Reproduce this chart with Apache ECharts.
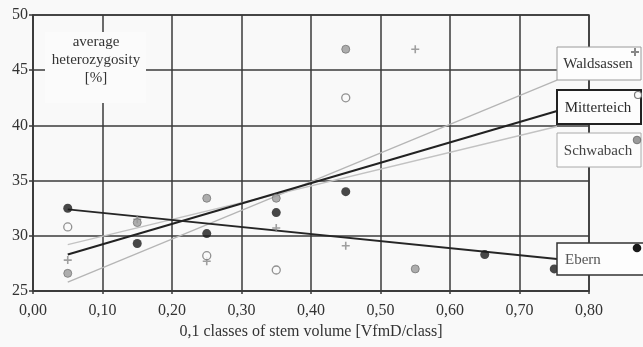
<!DOCTYPE html>
<html><head><meta charset="utf-8">
<script src="https://cdn.jsdelivr.net/npm/echarts@6/dist/echarts.min.js"></script>
<style>html,body{margin:0;padding:0;background:#f9f9f9}#c{width:643px;height:347px}</style>
</head><body><div id="c"></div>
<script>
// Data
const xTicks = [0, 0.1, 0.2, 0.3, 0.4, 0.5, 0.6, 0.7, 0.8];
const yTicks = [25, 30, 35, 40, 45, 50];
const seriesNames = ['Waldsassen', 'Mitterteich', 'Schwabach', 'Ebern'];
const ebernPts = [[0.05, 32.5], [0.15, 29.3], [0.25, 30.2], [0.35, 32.1], [0.45, 34.0], [0.65, 28.3], [0.75, 27.0]];
const mitterteichPts = [[0.05, 30.8], [0.25, 28.2], [0.35, 26.9], [0.45, 42.5]];
const schwabachPts = [[0.05, 26.6], [0.15, 31.2], [0.25, 33.4], [0.35, 33.4], [0.45, 46.9], [0.55, 27.0]];
const waldsassenPts = [[0.05, 27.8], [0.15, 31.5], [0.25, 27.7], [0.35, 30.7], [0.45, 29.1], [0.55, 46.9]];
// trend lines (start / end points)
const ebernTrend = [[0.05, 32.4], [0.754, 27.9]];
const mitterteichTrend = [[0.05, 28.3], [0.754, 41.3]];
const schwabachTrend = [[0.05, 29.2], [0.754, 39.9]];
const waldsassenTrend = [[0.05, 25.8], [0.754, 44.1]];

const FONT = '"Liberation Serif", "DejaVu Serif", serif';
const TXT = '#333';
const GRIDC = '#3a3a3a';
const plus = 'path://M4,0H6V4H10V6H6V10H4V6H0V4H4Z';

const chart = echarts.init(document.getElementById('c'), null, {renderer: 'canvas'});

function trend(name, data, color, width) {
  return {name: name + ' trend', type: 'line', data: data, showSymbol: false, symbol: 'none',
    lineStyle: {color: color, width: width}, z: 2, silent: true, animation: false};
}
function legendBox(y, h, label, stroke, lw, textColor) {
  return [
    {type: 'rect', shape: {x: 557, y: y, width: 84, height: h},
     style: {fill: '#fdfdfd', stroke: stroke, lineWidth: lw}, z: 100},
    {type: 'text', x: 598, y: y + h / 2 + 1, z: 101,
     style: {text: label, font: '15px ' + FONT, fill: textColor, textAlign: 'center', textVerticalAlign: 'middle'}}
  ];
}

const option = {
  backgroundColor: '#f9f9f9',
  animation: false,
  grid: {left: 33, right: 54, top: 15, bottom: 56, show: true, borderColor: GRIDC, borderWidth: 1.5, backgroundColor: 'transparent'},
  xAxis: {
    type: 'value', min: 0, max: 0.8, interval: 0.1,
    axisLine: {show: true, lineStyle: {color: GRIDC, width: 1.5}},
    axisTick: {show: true, length: 3, lineStyle: {color: GRIDC, width: 1.5}},
    splitLine: {show: true, lineStyle: {color: GRIDC, width: 1.5}},
    axisLabel: {color: TXT, fontFamily: FONT, fontSize: 16, margin: 12,
      formatter: v => { const t = xTicks.find(k => Math.abs(k - v) < 1e-6); return (t === undefined ? v : t).toFixed(2).replace('.', ','); }},
    name: '0,1 classes of stem volume [VfmD/class]', nameLocation: 'middle', nameGap: 33,
    nameTextStyle: {color: TXT, fontFamily: FONT, fontSize: 16}
  },
  yAxis: {
    type: 'value', min: 25, max: 50, interval: 5,
    axisLine: {show: true, lineStyle: {color: GRIDC, width: 1.5}},
    axisTick: {show: true, length: 4, lineStyle: {color: GRIDC, width: 1.5}},
    splitLine: {show: true, lineStyle: {color: GRIDC, width: 1.5}},
    axisLabel: {color: TXT, fontFamily: FONT, fontSize: 16, margin: 5,
      formatter: v => { const t = yTicks.find(k => Math.abs(k - v) < 1e-6); return String(t === undefined ? v : t); }}
  },
  series: [
    trend('Waldsassen', waldsassenTrend, '#b5b5b5', 1.3),
    trend('Schwabach', schwabachTrend, '#c2c2c2', 1.3),
    trend('Mitterteich', mitterteichTrend, '#222', 2),
    trend('Ebern', ebernTrend, '#262626', 1.8),
    {name: 'Waldsassen', type: 'scatter', data: waldsassenPts, symbol: plus, symbolSize: 8,
      itemStyle: {color: '#888'}, z: 5},
    {name: 'Schwabach', type: 'scatter', data: schwabachPts, symbol: 'circle', symbolSize: 8,
      itemStyle: {color: '#9a9a9a', borderColor: '#777', borderWidth: 1}, z: 5},
    {name: 'Mitterteich', type: 'scatter', data: mitterteichPts, symbol: 'circle', symbolSize: 8,
      itemStyle: {color: '#fafafa', borderColor: '#777', borderWidth: 1.3}, z: 5},
    {name: 'Ebern', type: 'scatter', data: ebernPts, symbol: 'circle', symbolSize: 9,
      itemStyle: {color: '#1a1a1a'}, z: 6}
  ],
  graphic: [
    {type: 'rect', shape: {x: 45, y: 32, width: 101, height: 71}, style: {fill: '#fbfbfb'}, z: 50},
    {type: 'text', x: 96, y: 42, z: 51, style: {text: 'average', font: '15px ' + FONT, fill: TXT, textAlign: 'center', textVerticalAlign: 'middle'}},
    {type: 'text', x: 96, y: 60, z: 51, style: {text: 'heterozygosity', font: '15px ' + FONT, fill: TXT, textAlign: 'center', textVerticalAlign: 'middle'}},
    {type: 'text', x: 96, y: 78, z: 51, style: {text: '[%]', font: '15px ' + FONT, fill: TXT, textAlign: 'center', textVerticalAlign: 'middle'}},
    ...legendBox(47, 33, seriesNames[0], '#9a9a9a', 1, '#333'),
    ...legendBox(90, 34, seriesNames[1], '#222', 2, '#2a2a2a'),
    ...legendBox(133, 34, seriesNames[2], '#aaa', 1, '#444'),
    {type: 'rect', shape: {x: 557, y: 243, width: 90, height: 32}, style: {fill: '#fdfdfd', stroke: '#333', lineWidth: 1.5}, z: 100},
    {type: 'text', x: 565, y: 260, z: 101, style: {text: seriesNames[3], font: '15px ' + FONT, fill: '#555', textAlign: 'left', textVerticalAlign: 'middle'}},
    // legend marker samples
    {type: 'rect', shape: {x: 631, y: 51, width: 8, height: 2}, style: {fill: '#888'}, z: 102},
    {type: 'rect', shape: {x: 634, y: 48, width: 2, height: 8}, style: {fill: '#888'}, z: 102},
    {type: 'circle', shape: {cx: 638, cy: 95, r: 3.5}, style: {fill: '#fafafa', stroke: '#777', lineWidth: 1.2}, z: 102},
    {type: 'circle', shape: {cx: 637, cy: 140, r: 3.8}, style: {fill: '#9a9a9a', stroke: '#777', lineWidth: 1}, z: 102},
    {type: 'circle', shape: {cx: 637, cy: 248, r: 4.3}, style: {fill: '#1a1a1a'}, z: 102}
  ]
};
chart.setOption(option);
</script>
</body></html>
